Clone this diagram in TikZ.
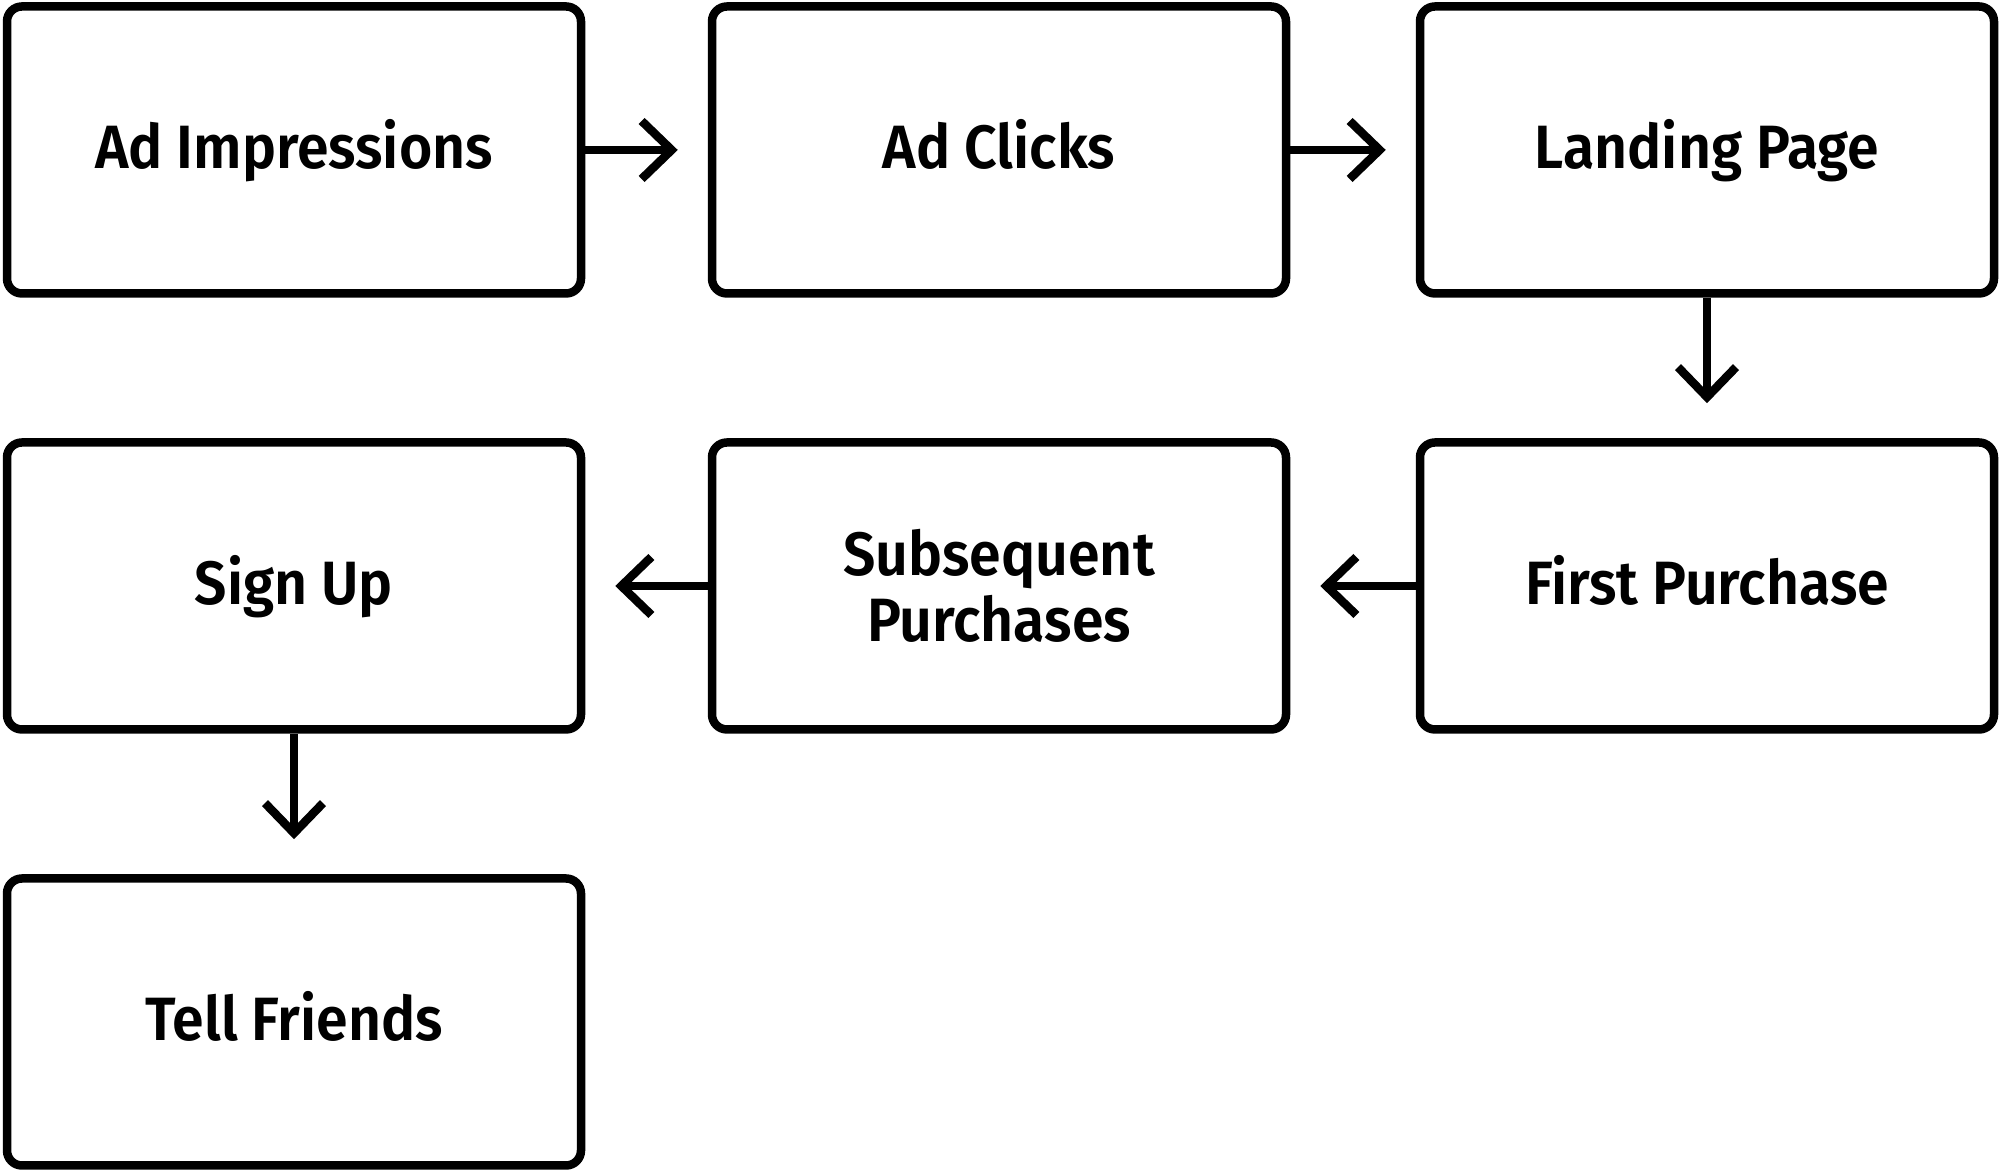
\documentclass[tikz,border=0pt]{standalone}
\usepackage{fontspec}
\setmainfont{Fira Sans}[BoldFont={Fira Sans SemiBold}, BoldFeatures={FakeStretch=0.935}]
\usetikzlibrary{arrows.meta}
\newcommand{\arrow}{{Straight Barb[length=3mm, width=5.8mm]}}
\newcommand{\lineWidth}{0.85mm}
\newcommand{\boxWidth}{57.4mm}
\newcommand{\boxHeight}{28.7mm}
\newcommand{\gapEnd}{3mm}
\tikzstyle{panel}=[draw=none, inner sep=0, outer sep=0]
\tikzstyle{stage}=[draw=black, line width=\lineWidth, rounded corners=1.5mm, minimum width=\boxWidth, minimum height=\boxHeight, align=center, text height=14.5pt, text depth=3.7pt, font=\fontsize{17.4pt}{18.6pt}\selectfont\bfseries]
\tikzstyle{line}=[draw=black, line width=\lineWidth]
\tikzstyle{arrow}=[line, -\arrow, shorten >=\gapEnd]

\begin{document}
\begin{tikzpicture}[]

% Frame
\useasboundingbox (0,0) rectangle (200mm,117.3mm);

% First row
\node[stage] (impressions) at (29.4mm,102.3mm) {Ad Impressions};
\node[stage] (clicks) at (99.9mm,102.3mm) {Ad Clicks};
\node[stage] (landing) at (170.7mm,102.3mm) {Landing Page};
% Second row
\node[stage] (firstBuy) at (170.7mm,58.7mm) {First Purchase};
\node[stage, text height=, text depth=] (laterBuys) at (99.9mm,58.7mm) {Subsequent\\Purchases};
\node[stage] (signUp) at (29.4mm,58.7mm) {Sign Up};
% Third row
\node[stage] (tell) at (29.4mm,15.1mm) {Tell Friends};

% Arrows
\draw[arrow] (impressions.east) -- (clicks.west);
\draw[arrow] (clicks.east) -- (landing.west);
\draw[arrow, shorten >=3.5mm] (landing.south) -- (firstBuy.north);
\draw[arrow] (firstBuy.west) -- (laterBuys.east);
\draw[arrow] (laterBuys.west) -- (signUp.east);
\draw[arrow, shorten >=3.5mm] (signUp.south) -- (tell.north);

\end{tikzpicture}
\end{document}
